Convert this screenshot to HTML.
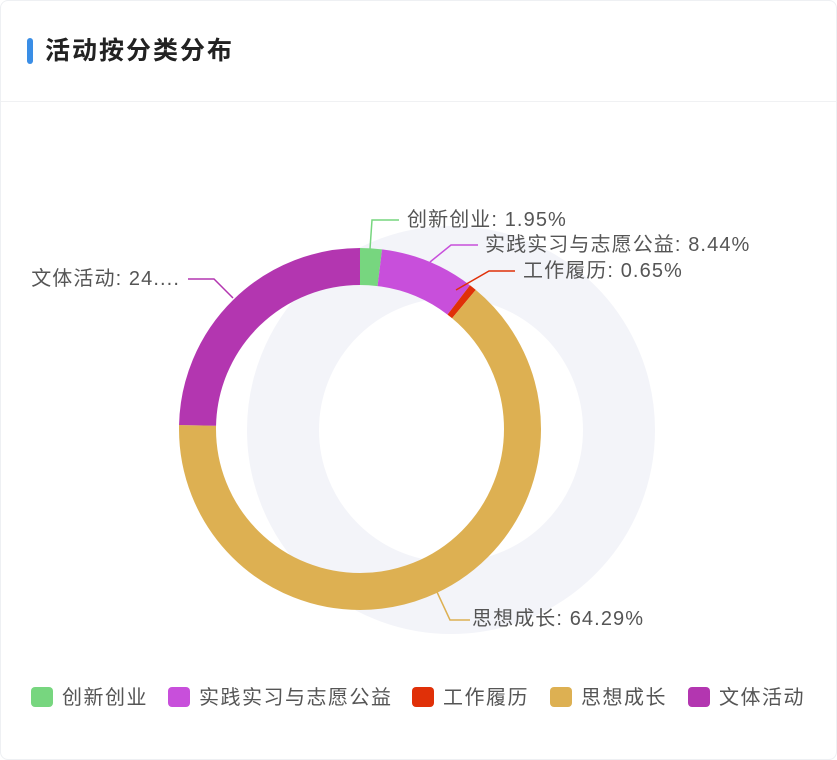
<!DOCTYPE html>
<html><head><meta charset="utf-8"><style>
body{margin:0;background:#fff;width:837px;height:760px;overflow:hidden;font-family:"Liberation Sans","Noto Sans CJK SC",sans-serif;}
.card{position:absolute;left:0;top:0;width:835px;height:758px;border:1px solid #eef0f3;border-radius:8px;background:#fff;}
.hd{position:absolute;left:0;top:0;width:835px;height:100px;border-bottom:1px solid #f0f1f3;}
.bar{position:absolute;left:26px;top:37px;width:6px;height:26px;border-radius:3px;background:#3a8ee6;}
.tt{position:absolute;left:44px;top:34px;font-size:25px;font-weight:bold;color:#222;line-height:32px;letter-spacing:2px;}
</style></head><body>
<div class="card"><div class="hd"><div class="bar"></div><div class="tt">活动按分类分布</div></div></div>
<svg width="837" height="760" style="position:absolute;left:0;top:0" font-family="Liberation Sans, Noto Sans CJK SC, sans-serif">
<circle cx="451" cy="430" r="168" fill="none" stroke="#f3f4f9" stroke-width="72"/>
<g transform="rotate(-90 360 429)" fill="none" stroke-width="37">
<circle cx="360" cy="429" r="162.5" stroke="#77d67f" stroke-dasharray="19.91 2000" stroke-dashoffset="0"/>
<circle cx="360" cy="429" r="162.5" stroke="#c84fdb" stroke-dasharray="86.17 2000" stroke-dashoffset="-19.91"/>
<circle cx="360" cy="429" r="162.5" stroke="#e03008" stroke-dasharray="6.64 2000" stroke-dashoffset="-106.08"/>
<circle cx="360" cy="429" r="162.5" stroke="#ddb052" stroke-dasharray="656.4 2000" stroke-dashoffset="-112.72"/>
<circle cx="360" cy="429" r="162.5" stroke="#b336b0" stroke-dasharray="251.9 2000" stroke-dashoffset="-769.12"/>
</g>
<g fill="none" stroke-width="1.5">
<polyline points="370,249 372,220 399,220" stroke="#77d67f"/>
<polyline points="430,262 451,245 478,245" stroke="#c84fdb"/>
<polyline points="456,290 489,271 515,271" stroke="#e03008"/>
<polyline points="437,592 450,620 470,620" stroke="#ddb052"/>
<polyline points="233,298 214,279 188,279" stroke="#b336b0"/>
</g>
<g font-size="20" fill="#555" letter-spacing="1.1">
<text x="407" y="226">创新创业: 1.95%</text>
<text x="485" y="251">实践实习与志愿公益: 8.44%</text>
<text x="523" y="277">工作履历: 0.65%</text>
<text x="472" y="625">思想成长: 64.29%</text>
<text x="180" y="285" text-anchor="end">文体活动: 24....</text>
</g>
<g font-size="20" fill="#555" letter-spacing="1.5">
<rect x="31" y="687" width="22" height="20" rx="4" fill="#77d67f"/><text x="62" y="704">创新创业</text>
<rect x="168" y="687" width="22" height="20" rx="4" fill="#c84fdb"/><text x="199" y="704">实践实习与志愿公益</text>
<rect x="412" y="687" width="22" height="20" rx="4" fill="#e03008"/><text x="443" y="704">工作履历</text>
<rect x="550" y="687" width="22" height="20" rx="4" fill="#ddb052"/><text x="581" y="704">思想成长</text>
<rect x="688" y="687" width="22" height="20" rx="4" fill="#b336b0"/><text x="719" y="704">文体活动</text>
</g>
</svg>
</body></html>
